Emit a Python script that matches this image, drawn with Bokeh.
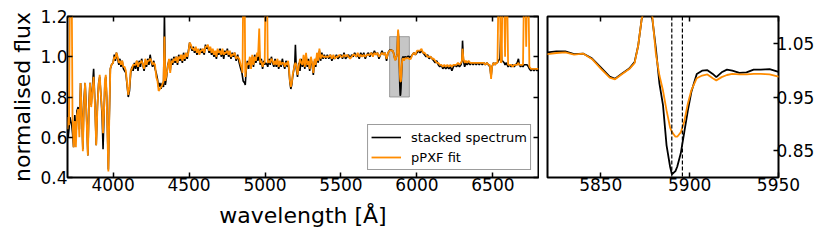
from bokeh.plotting import figure
from bokeh.models import LinearAxis, FixedTicker, BoxAnnotation, Span, Range1d, NumeralTickFormatter
from bokeh.layouts import row
from bokeh.embed import file_html
from bokeh.resources import INLINE

# ---------------- data ----------------
wave_a = [3700, 3705, 3710, 3716, 3728, 3733, 3740, 3748, 3755, 3762,
          3770, 3778, 3786, 3794, 3801, 3808, 3816, 3824, 3834, 3842,
          3848, 3856, 3864, 3872, 3880, 3889, 3897, 3905, 3912, 3920,
          3928, 3934, 3940, 3946, 3952, 3958, 3964, 3969, 3975, 3982,
          3990]
stacked_a = [0.67, 0.60, 0.64, 0.70, 0.66, 0.62, 0.55, 0.71, 0.58, 0.73,
             0.75, 0.64, 0.87, 0.72, 0.54, 0.78, 0.87, 0.74, 0.51, 0.78,
             0.87, 0.76, 0.85, 0.94, 0.78, 0.56, 0.76, 0.87, 0.90, 0.81,
             0.70, 0.54, 0.70, 0.87, 0.90, 0.80, 0.60, 0.44, 0.70, 0.94,
             0.96]
ppxf_a = [0.64, 0.70, 0.66, 1.30, 1.30, 0.70, 0.55, 0.68, 0.55, 0.71,
          0.74, 0.60, 0.87, 0.70, 0.53, 0.76, 0.87, 0.72, 0.51, 0.76,
          0.87, 0.75, 0.83, 0.90, 0.77, 0.56, 0.75, 0.86, 0.91, 0.81,
          0.73, 0.62, 0.72, 0.88, 0.91, 0.80, 0.58, 0.43, 0.70, 0.94,
          0.96]

wave_b = [4000, 4008, 4015, 4022, 4030, 4038, 4045, 4052, 4060, 4068,
          4076, 4084, 4092, 4100, 4108, 4116, 4124, 4132, 4140, 4148,
          4156, 4164, 4172, 4180, 4188, 4196, 4204, 4212, 4220, 4228,
          4236, 4244, 4252, 4260, 4268, 4276, 4284, 4292, 4300, 4308,
          4316, 4324, 4332, 4338, 4344, 4352, 4360, 4368, 4376, 4384,
          4392, 4400, 4408, 4416, 4424, 4432, 4440, 4448, 4456, 4464,
          4472, 4480, 4488, 4496]
stacked_b = [0.97, 1.01, 0.98, 1.02, 0.99, 0.96, 0.99, 0.95, 0.98, 0.94,
             0.93, 0.92, 0.86, 0.80, 0.83, 0.92, 0.95, 0.93, 0.97, 0.94,
             0.98, 0.93, 0.98, 0.95, 0.99, 0.96, 0.93, 0.97, 0.95, 0.99,
             0.96, 1.01, 0.97, 0.95, 0.98, 0.94, 0.92, 0.89, 0.85, 0.87,
             0.84, 0.87, 0.85, 1.22, 0.86, 0.90, 0.96, 0.98, 0.93, 0.99,
             0.96, 1.00, 0.97, 1.00, 0.96, 1.01, 0.98, 1.00, 0.97, 1.02,
             0.98, 1.01, 0.99, 1.03]
ppxf_b = [0.97, 1.00, 0.99, 1.02, 1.00, 0.97, 0.98, 0.96, 0.98, 0.95,
          0.95, 0.93, 0.87, 0.81, 0.85, 0.93, 0.94, 0.96, 0.96, 0.96,
          0.98, 0.95, 0.97, 0.97, 0.98, 0.96, 0.94, 0.99, 0.96, 0.98,
          0.98, 0.99, 0.98, 0.96, 0.97, 0.96, 0.90, 0.88, 0.83, 0.84,
          0.85, 0.86, 0.88, 1.10, 0.88, 0.91, 0.95, 0.99, 0.92, 0.98,
          0.97, 0.99, 0.98, 1.00, 0.97, 1.00, 0.99, 1.01, 0.98, 1.01,
          0.99, 1.02, 1.00, 1.02]

wave_c = [4504, 4512, 4520, 4528, 4536, 4544, 4552, 4560, 4568, 4576,
          4584, 4592, 4600, 4608, 4616, 4624, 4632, 4640, 4648, 4656,
          4664, 4672, 4680, 4688, 4696, 4704, 4712, 4720, 4728, 4736,
          4744, 4752, 4760, 4768, 4776, 4784, 4792, 4800, 4810, 4820,
          4830, 4840, 4848, 4852, 4856, 4866, 4870, 4876, 4884, 4892,
          4900, 4908, 4916, 4924, 4932, 4940, 4948, 4954, 4962, 4968,
          4976, 4984, 4992, 4998, 5003, 5014, 5018, 5026, 5034, 5042,
          5050, 5058, 5066, 5074, 5082, 5090, 5098, 5106, 5114, 5122,
          5130, 5138, 5146, 5152, 5158, 5164, 5170, 5176, 5182, 5190,
          5196, 5200, 5206, 5214]
stacked_c = [1.07, 1.05, 1.03, 1.05, 1.02, 1.04, 1.01, 1.03, 1.02, 1.04,
             1.02, 1.03, 1.01, 1.06, 1.04, 1.05, 1.02, 1.04, 1.01, 1.03,
             1.00, 1.02, 0.99, 1.03, 1.01, 1.04, 1.00, 1.03, 0.99, 1.03,
             1.01, 1.04, 1.00, 1.02, 0.99, 1.02, 1.00, 1.02, 0.98, 1.01,
             0.97, 0.94, 0.92, 0.90, 0.88, 0.87, 0.86, 0.93, 0.98, 0.94,
             0.99, 0.96, 1.00, 0.95, 1.01, 0.97, 1.00, 0.98, 1.03, 0.96,
             0.99, 0.94, 0.98, 0.96, 0.97, 0.96, 0.95, 0.99, 0.96, 1.00,
             0.97, 0.95, 0.99, 0.95, 0.98, 0.94, 0.97, 0.95, 0.99, 0.96,
             0.94, 0.98, 0.95, 0.97, 0.93, 0.87, 0.84, 0.86, 0.90, 0.94,
             0.97, 1.06, 0.94, 0.90]
ppxf_c = [1.07, 1.06, 1.04, 1.04, 1.03, 1.05, 1.02, 1.04, 1.01, 1.03,
          1.03, 1.04, 1.02, 1.05, 1.05, 1.06, 1.03, 1.05, 1.02, 1.04,
          1.01, 1.03, 1.00, 1.04, 1.02, 1.03, 1.01, 1.04, 1.01, 1.02,
          1.02, 1.03, 1.01, 1.03, 1.00, 1.01, 1.01, 1.02, 0.99, 1.00,
          0.99, 0.96, 0.94, 0.92, 1.30, 1.30, 0.90, 0.94, 0.97, 0.96,
          1.00, 0.94, 1.01, 0.96, 1.00, 0.98, 1.02, 1.00, 1.14, 0.97,
          0.98, 0.95, 0.97, 0.97, 1.30, 1.30, 0.97, 0.98, 0.97, 0.99,
          0.98, 0.96, 0.98, 0.96, 0.99, 0.95, 0.98, 0.96, 0.97, 0.97,
          0.95, 0.97, 0.96, 0.98, 0.94, 0.88, 0.85, 0.87, 0.91, 0.94,
          0.96, 0.97, 0.96, 0.91]

wave_d = [5222, 5230, 5238, 5246, 5254, 5262, 5270, 5278, 5286, 5294,
          5302, 5310, 5318, 5326, 5334, 5342, 5350, 5358, 5366, 5374,
          5382, 5390, 5400, 5410, 5420, 5430, 5440, 5450, 5460, 5470,
          5480, 5490, 5500, 5510, 5520, 5530, 5540, 5550, 5560, 5570,
          5580, 5590, 5600, 5610, 5620, 5630, 5640, 5650, 5660, 5670,
          5680, 5690, 5700, 5710, 5720, 5730, 5740, 5750, 5760, 5770,
          5780, 5790, 5800, 5810]
stacked_d = [0.97, 0.93, 0.99, 0.95, 0.98, 0.94, 1.01, 0.95, 0.99, 0.93,
             0.99, 0.96, 0.91, 0.98, 0.95, 1.01, 0.97, 1.03, 0.98, 1.02,
             0.99, 1.01, 0.99, 1.01, 0.99, 1.01, 0.98, 1.00, 0.99, 1.01,
             0.99, 1.00, 1.01, 0.99, 1.02, 0.99, 1.00, 1.01, 0.99, 1.01,
             1.00, 1.02, 1.00, 1.01, 0.99, 1.02, 1.00, 1.02, 0.99, 1.01,
             1.02, 1.00, 1.02, 1.01, 1.03, 1.01, 1.02, 0.99, 1.01, 1.03,
             1.01, 1.02, 0.98, 1.02]
ppxf_d = [0.95, 0.99, 0.97, 0.96, 1.01, 0.95, 1.02, 0.96, 0.98, 0.94,
          1.00, 0.97, 0.92, 0.99, 0.96, 1.02, 0.98, 1.04, 0.99, 1.01,
          1.00, 1.00, 1.00, 1.00, 1.00, 1.01, 0.99, 1.01, 0.99, 1.00,
          1.00, 1.01, 1.00, 1.00, 1.01, 1.00, 1.01, 1.00, 0.99, 1.00,
          1.01, 1.01, 1.00, 1.02, 1.00, 1.01, 1.00, 1.01, 1.00, 1.01,
          1.01, 1.01, 1.02, 1.00, 1.02, 1.01, 1.02, 1.00, 1.01, 1.02,
          1.01, 1.02, 0.99, 1.02]

# Na D region (also shown in the zoom panel)
wave_e = [5820, 5825, 5830, 5835, 5840, 5845, 5850, 5855, 5858, 5862,
          5866, 5869, 5871, 5873, 5876, 5879, 5881, 5883, 5885, 5887,
          5889, 5890, 5892, 5893, 5895, 5897, 5899, 5901, 5904, 5907,
          5910, 5913, 5915, 5918, 5921, 5924, 5928, 5932, 5936, 5940,
          5945, 5950]
stacked_e = [1.033, 1.035, 1.035, 1.030, 1.031, 1.022, 1.005, 0.988, 0.984, 0.994,
             1.003, 1.015, 1.045, 1.095, 1.125, 1.095, 1.040, 0.975, 0.935, 0.860,
             0.820, 0.806, 0.812, 0.820, 0.845, 0.885, 0.925, 0.960, 0.993, 0.999,
             1.000, 0.993, 0.987, 0.996, 1.001, 0.999, 0.995, 0.996, 1.001, 1.001,
             1.002, 0.997]
ppxf_e = [1.030, 1.032, 1.033, 1.029, 1.031, 1.021, 1.003, 0.986, 0.983, 0.993,
          1.002, 1.013, 1.045, 1.095, 1.135, 1.100, 1.030, 0.990, 0.962, 0.925,
          0.893, 0.885, 0.876, 0.876, 0.884, 0.905, 0.938, 0.963, 0.985, 0.990,
          0.992, 0.985, 0.981, 0.987, 0.991, 0.993, 0.992, 0.992, 0.993, 0.993,
          0.992, 0.988]

wave_f = [5960, 5970, 5980, 5990, 6000, 6010, 6020, 6030, 6040, 6050,
          6060, 6070, 6080, 6090, 6100, 6110, 6120, 6130, 6140, 6150,
          6160, 6170, 6180, 6190, 6200, 6210, 6220, 6230, 6240, 6250,
          6260, 6270, 6280, 6290, 6296, 6300, 6306, 6314, 6322, 6330,
          6340, 6350, 6360, 6370, 6380, 6390, 6400, 6410, 6420, 6430,
          6440, 6450, 6460, 6470, 6480, 6488, 6494, 6504, 6514, 6522,
          6530, 6536, 6546, 6552, 6558, 6562, 6574, 6580, 6586, 6594,
          6600, 6610, 6620, 6630, 6640, 6650, 6660, 6668, 6674, 6682,
          6690, 6698, 6704, 6714, 6719, 6724, 6734, 6740, 6750, 6760,
          6770, 6780, 6790, 6800]
stacked_f = [1.00, 1.01, 1.02, 1.01, 1.02, 1.03, 1.02, 1.03, 1.02, 1.01,
             1.00, 1.01, 0.99, 1.00, 0.99, 0.98, 0.97, 0.98, 0.96, 0.95,
             0.96, 0.94, 0.95, 0.94, 0.95, 0.94, 0.95, 0.93, 0.95, 0.96,
             0.95, 0.96, 0.95, 0.96, 0.98, 1.08, 0.98, 0.95, 0.97, 0.96,
             0.97, 0.96, 0.97, 0.96, 0.97, 0.96, 0.97, 0.96, 0.97, 0.96,
             0.97, 0.96, 0.97, 0.96, 0.95, 0.90, 0.95, 0.97, 0.96, 0.97,
             0.97, 0.98, 0.99, 1.12, 0.98, 0.98, 0.97, 0.96, 0.97, 0.96,
             0.95, 0.96, 0.95, 0.96, 0.95, 0.96, 0.97, 0.99, 0.96, 0.95,
             0.96, 0.95, 0.96, 0.96, 0.96, 0.96, 0.95, 0.94, 0.93, 0.94,
             0.93, 0.94, 0.93, 0.94]
ppxf_f = [0.99, 1.01, 1.02, 1.01, 1.03, 1.03, 1.03, 1.04, 1.02, 1.02,
          1.01, 1.00, 1.00, 1.00, 0.99, 0.99, 0.98, 0.97, 0.97, 0.96,
          0.96, 0.95, 0.96, 0.95, 0.96, 0.95, 0.96, 0.95, 0.96, 0.96,
          0.96, 0.97, 0.96, 0.97, 0.98, 1.04, 0.99, 0.97, 0.98, 0.97,
          0.98, 0.97, 0.97, 0.97, 0.97, 0.97, 0.97, 0.97, 0.97, 0.97,
          0.97, 0.96, 0.97, 0.96, 0.96, 0.89, 0.95, 0.97, 0.96, 0.97,
          0.97, 1.30, 1.30, 0.97, 0.98, 1.30, 1.30, 1.00, 1.30, 1.30,
          0.96, 0.96, 0.96, 0.95, 0.96, 0.96, 0.96, 0.97, 0.96, 0.96,
          0.96, 0.96, 1.30, 1.30, 1.05, 1.30, 1.30, 0.95, 0.94, 0.94,
          0.94, 0.94, 0.94, 0.94]

wavelength = wave_a + wave_b + wave_c + wave_d + wave_e + wave_f
stacked_spectrum = stacked_a + stacked_b + stacked_c + stacked_d + stacked_e + stacked_f
ppxf_fit = ppxf_a + ppxf_b + ppxf_c + ppxf_d + ppxf_e + ppxf_f

full_xticks = [4000, 4500, 5000, 5500, 6000, 6500]
full_yticks = [0.4, 0.6, 0.8, 1.0, 1.2]
zoom_xticks = [5850, 5900, 5950]
zoom_yticks = [0.85, 0.95, 1.05]
nad_lines = [5889.95, 5895.92]
full_xrange = (3700, 6800)
full_yrange = (0.4, 1.2)
zoom_xrange = (5820, 5950)
zoom_yrange = (0.80, 1.10)

FONT = "DejaVu Sans"
ORANGE = "#ff8c00"


def style_axis(ax, ticks, show_labels, fmt=None, standoff=2):
    ax.ticker = FixedTicker(ticks=ticks)
    ax.major_tick_in = 5
    ax.major_tick_out = 0
    ax.major_tick_line_color = "black"
    ax.major_tick_line_width = 1.5
    ax.minor_tick_line_color = None
    ax.axis_line_color = None
    ax.major_label_text_font = FONT
    if fmt is not None:
        ax.formatter = NumeralTickFormatter(format=fmt)
    if show_labels:
        ax.major_label_text_color = "black"
        ax.major_label_text_font_size = "17px"
        ax.major_label_standoff = standoff
    else:
        # tick marks only (mirrored ticks on the opposite side of the frame)
        ax.major_label_text_color = None
        ax.major_label_text_font_size = "1px"
        ax.major_label_standoff = 0


def base_style(p):
    p.grid.visible = False
    p.outline_line_color = "black"
    p.outline_line_width = 2
    p.background_fill_color = "white"
    p.border_fill_color = "white"


# ---------------- left panel ----------------
p1 = figure(frame_width=471, frame_height=161, output_backend="svg", toolbar_location=None,
            x_range=Range1d(*full_xrange), y_range=Range1d(*full_yrange),
            min_border=0, min_border_left=67, min_border_top=16, min_border_right=1)
base_style(p1)
p1.add_layout(BoxAnnotation(left=zoom_xrange[0], right=zoom_xrange[1],
                            bottom=zoom_yrange[0], top=zoom_yrange[1],
                            fill_color="gray", fill_alpha=0.45,
                            line_color="gray", line_alpha=0.7, line_width=1,
                            level="underlay"))
p1.line(wavelength, stacked_spectrum, color="black", line_width=1.6, legend_label="stacked spectrum")
p1.line(wavelength, ppxf_fit, color=ORANGE, line_width=1.8, legend_label="pPXF fit")

style_axis(p1.xaxis[0], full_xticks, True, standoff=0)
style_axis(p1.yaxis[0], full_yticks, True, "0.0", standoff=0)
p1.xaxis[0].axis_label = "wavelength [Å]"
p1.yaxis[0].axis_label = "normalised flux"
for ax in (p1.xaxis[0], p1.yaxis[0]):
    ax.axis_label_text_font = FONT
    ax.axis_label_text_font_size = "22px"
    ax.axis_label_text_font_style = "normal"
    ax.axis_label_text_color = "black"
p1.xaxis[0].axis_label_standoff = 9
p1.yaxis[0].axis_label_standoff = 2
top1 = LinearAxis()
style_axis(top1, full_xticks, False)
p1.add_layout(top1, "above")
right1 = LinearAxis()
style_axis(right1, full_yticks, False)
p1.add_layout(right1, "right")

lg = p1.legend[0]
lg.location = "bottom_right"
lg.margin = 7
lg.padding = 3
lg.spacing = 2
lg.label_text_font = FONT
lg.label_text_font_size = "13px"
lg.label_text_color = "black"
lg.label_height = 18
lg.glyph_height = 18
lg.glyph_width = 30
lg.label_standoff = 10
lg.border_line_color = "#3a3a3a"
lg.border_line_width = 1.5
lg.background_fill_color = "white"
lg.background_fill_alpha = 1.0

# ---------------- right (zoom) panel ----------------
p2 = figure(frame_width=231, frame_height=161, output_backend="svg", toolbar_location=None,
            x_range=Range1d(*zoom_xrange), y_range=Range1d(*zoom_yrange),
            y_axis_location="right",
            min_border=0, min_border_left=8, min_border_top=16)
base_style(p2)
for loc in nad_lines:
    p2.add_layout(Span(location=loc, dimension="height", line_color="black",
                       line_width=1.2, line_dash="4 2"))
p2.line(wavelength, stacked_spectrum, color="black", line_width=1.8)
p2.line(wavelength, ppxf_fit, color=ORANGE, line_width=1.8)
style_axis(p2.xaxis[0], zoom_xticks, True, standoff=0)
style_axis(p2.yaxis[0], zoom_yticks, True, "0.00", standoff=-2)
top2 = LinearAxis()
style_axis(top2, zoom_xticks, False)
p2.add_layout(top2, "above")

layout = row(p1, p2)
open("out.html", "w").write(file_html(layout, INLINE))
